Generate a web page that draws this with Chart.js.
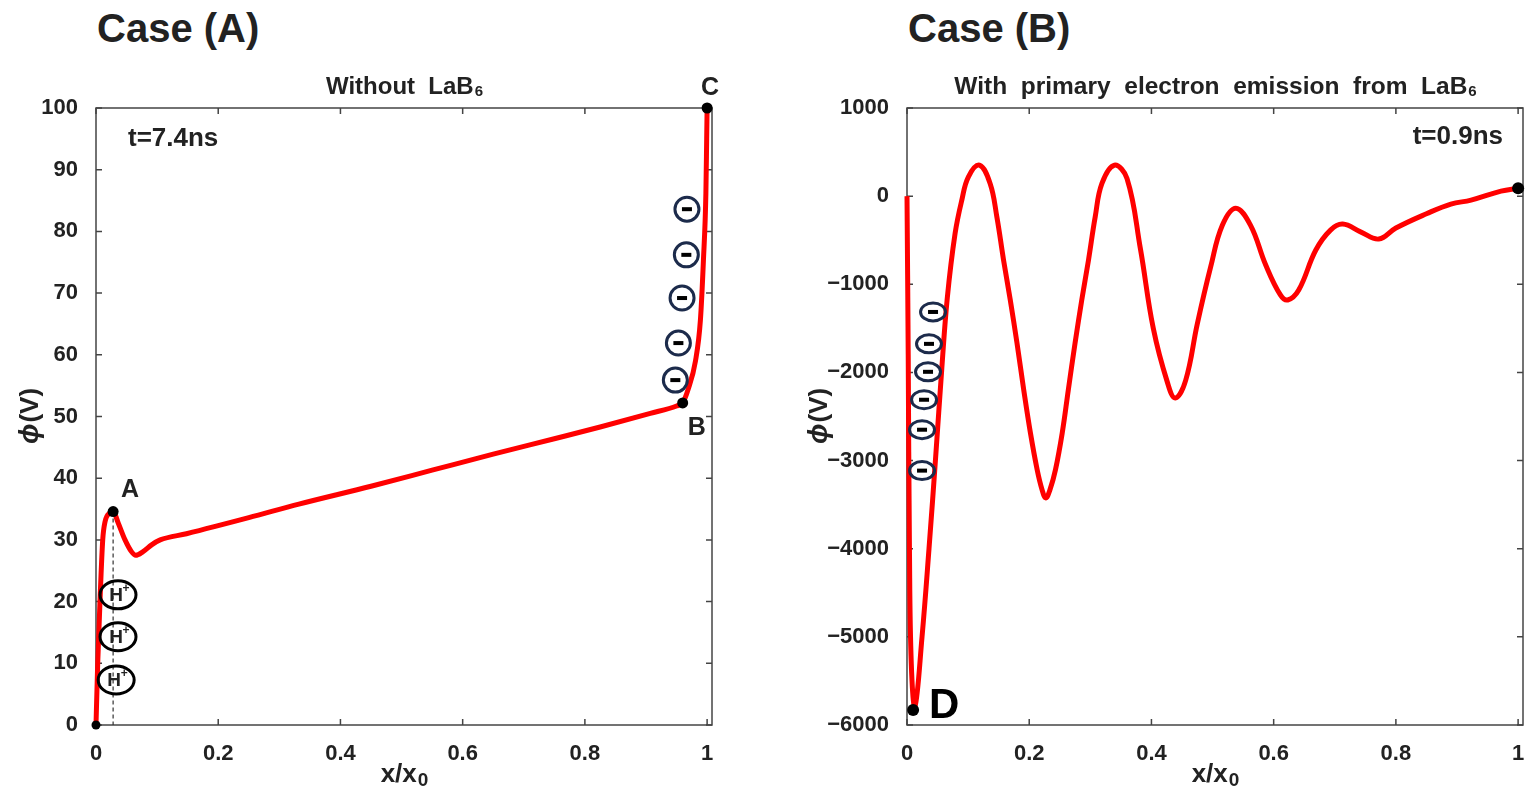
<!DOCTYPE html>
<html>
<head>
<meta charset="utf-8">
<script src="https://cdn.jsdelivr.net/npm/chart.js@4.4.1/dist/chart.umd.min.js"></script>
<style>
  html, body { margin: 0; padding: 0; background: #fff; }
  body { width: 1538px; height: 801px; position: relative; overflow: hidden; font-family: "Liberation Sans", Arial, sans-serif; }
  .panel { position: absolute; top: 0; width: 769px; height: 801px; }
  .case { position: absolute; top: 4px; font-size: 40px; line-height: 48px; font-weight: bold; color: #222; }
</style>
</head>
<body>
<div class="case" style="left:97px">Case (A)</div>
<div class="case" style="left:908px">Case (B)</div>
<div class="panel" style="left:0"><canvas id="chartA" width="769" height="801"></canvas></div>
<div class="panel" style="left:769px"><canvas id="chartB" width="769" height="801"></canvas></div>
<script>
// titles ("_" marks the subscript that follows)
var titleA = 'Without  LaB_6';
var titleB = 'With  primary  electron  emission  from  LaB_6';
var xTitle = 'x/x_0';
var yTitleSym = 'ϕ';
var yTitleUnit = '(V)';

// ticks
var xTickVals = [0, 0.2, 0.4, 0.6, 0.8, 1];
var yTickValsA = [0, 10, 20, 30, 40, 50, 60, 70, 80, 90, 100];
var yTickValsB = [-6000, -5000, -4000, -3000, -2000, -1000, 0, 1000];

// case (A): potential without LaB6, t=7.4ns
var xA = [0, 0.0028, 0.0065, 0.011, 0.0147, 0.023, 0.028, 0.0365, 0.0475, 0.058, 0.065, 0.077, 0.091, 0.105,
          0.148, 0.25, 0.332, 0.45, 0.55, 0.65, 0.75, 0.825, 0.907, 0.95, 0.96, 0.969, 0.981, 0.989,
          0.994, 0.998, 0.9993, 1.0];
var yA = [0, 10, 20, 30, 32.9, 34.4, 34.6, 32.7, 30, 28.1, 27.5, 28.1, 29.2, 30,
          31.0, 33.6, 35.8, 38.7, 41.3, 43.9, 46.4, 48.3, 50.5, 51.7, 52.2, 54.4, 59, 65.6,
          75.4, 86.2, 95, 100];

// case (B): with primary electron emission, t=0.9ns
var xB = [0, 0.002, 0.004, 0.007, 0.013, 0.0246, 0.036, 0.047, 0.057, 0.066, 0.0787, 0.0897,
          0.1005, 0.1185, 0.136, 0.147, 0.158, 0.169, 0.18, 0.191, 0.202, 0.213, 0.221, 0.227, 0.234,
          0.243, 0.254, 0.264, 0.275, 0.286, 0.297, 0.308, 0.319, 0.3393, 0.36, 0.382, 0.403, 0.426,
          0.439, 0.456, 0.475, 0.497, 0.516, 0.538, 0.562, 0.587, 0.611, 0.623, 0.641, 0.669, 0.693,
          0.713, 0.743, 0.772, 0.8, 0.85, 0.89, 0.923, 0.972, 1.0];
var yB = [0, -1800, -4000, -5300, -5790, -5000, -4000, -2950, -1950, -1150, -423, -45,
          219, 351, 144, -234, -725, -1178, -1668, -2197, -2687, -3103, -3330, -3424, -3330,
          -3103, -2687, -2197, -1668, -1178, -725, -234, 144, 351, 200, -600, -1500, -2110,
          -2290, -2090, -1450, -800, -330, -136, -328, -781, -1121, -1178, -1065, -611, -385,
          -317, -408, -487, -362, -200, -90, -45, 57, 90];

// marked points and symbols
var dotsA = [[0, 0], [0.028, 34.6], [0.96, 52.2], [1.0, 100]];
var lettersA = [['A', 0.028, 34.6, 17, -21], ['B', 0.96, 52.2, 14, 25], ['C', 1.0, 100, 3, -20]];
var ionsA = [[0.036, 21.1], [0.036, 14.3], [0.033, 7.3]];
var electronsA = [[0.967, 83.6], [0.966, 76.2], [0.959, 69.2], [0.953, 61.9], [0.948, 55.9]];
var dotsB = [[0.01, -5830], [1.0, 90]];
var electronsB = [[0.0426, -1314], [0.036, -1676], [0.0344, -1993], [0.0279, -2310], [0.0246, -2650], [0.0246, -3114]];

var FONT = '"Liberation Sans", Arial, sans-serif';
Chart.defaults.font.family = FONT;
Chart.defaults.color = '#222';

function pts(xs, ys) {
  return xs.map(function (x, i) { return {x: x, y: ys[i]}; });
}

function fmt(v) {
  var s = String(+v.toFixed(2));
  return v < 0 ? '\u2212' + s.slice(1) : s;
}

// text with an optional trailing subscript, centred on (cx, cy)
function subText(ctx, text, cx, cy, size, subScale, drop) {
  var p = text.split('_');
  ctx.font = 'bold ' + size + 'px ' + FONT;
  var w1 = ctx.measureText(p[0]).width;
  ctx.font = 'bold ' + Math.round(size * subScale) + 'px ' + FONT;
  var w2 = p[1] ? ctx.measureText(p[1]).width : 0;
  var x0 = cx - (w1 + w2) / 2;
  ctx.textAlign = 'left';
  ctx.textBaseline = 'middle';
  ctx.font = 'bold ' + size + 'px ' + FONT;
  ctx.fillText(p[0], x0, cy);
  if (p[1]) {
    ctx.font = 'bold ' + Math.round(size * subScale) + 'px ' + FONT;
    ctx.fillText(p[1], x0 + w1 + 1, cy + drop);
  }
}

// box round the plot, ticks pointing inwards, titles
var frame = {
  id: 'frame',
  beforeDatasetsDraw: function (chart, args, opts) {
    var ctx = chart.ctx, a = chart.chartArea, x = chart.scales.x, y = chart.scales.y;
    ctx.save();
    ctx.strokeStyle = '#444';
    ctx.lineWidth = 1.5;
    ctx.strokeRect(a.left, a.top, a.right - a.left, a.bottom - a.top);
    ctx.beginPath();
    x.ticks.forEach(function (t) {
      var px = x.getPixelForValue(t.value);
      ctx.moveTo(px, a.bottom); ctx.lineTo(px, a.bottom - 6);
      ctx.moveTo(px, a.top); ctx.lineTo(px, a.top + 6);
    });
    y.ticks.forEach(function (t) {
      var py = y.getPixelForValue(t.value);
      ctx.moveTo(a.left, py); ctx.lineTo(a.left + 6, py);
      ctx.moveTo(a.right, py); ctx.lineTo(a.right - 6, py);
    });
    ctx.stroke();

    var cx = (a.left + a.right) / 2, cy = (a.top + a.bottom) / 2;
    ctx.fillStyle = '#222';
    subText(ctx, opts.title, cx, a.top - 21, opts.titleSize, 0.62, 5);
    subText(ctx, xTitle, cx, a.bottom + 50, 26, 0.72, 6);

    // y title, rotated
    ctx.translate(opts.yTitleX, cy);
    ctx.rotate(-Math.PI / 2);
    ctx.textBaseline = 'middle';
    ctx.textAlign = 'left';
    ctx.font = 'italic bold 27px ' + FONT;
    var w1 = ctx.measureText(yTitleSym).width;
    ctx.font = 'bold 26px ' + FONT;
    var w2 = ctx.measureText(yTitleUnit).width;
    ctx.font = 'italic bold 27px ' + FONT;
    ctx.fillText(yTitleSym, -(w1 + w2) / 2, 0);
    ctx.font = 'bold 26px ' + FONT;
    ctx.fillText(yTitleUnit, -(w1 + w2) / 2 + w1 + 1, 0);
    ctx.restore();
  }
};

function dot(ctx, px, py, r) {
  ctx.beginPath();
  ctx.arc(px, py, r, 0, Math.PI * 2);
  ctx.fillStyle = '#000';
  ctx.fill();
}

function electron(ctx, px, py, rx, ry) {
  ctx.beginPath();
  ctx.ellipse(px, py, rx, ry, 0, 0, Math.PI * 2);
  ctx.strokeStyle = '#1c2b4b';
  ctx.lineWidth = 3;
  ctx.stroke();
  ctx.fillStyle = '#000';
  ctx.fillRect(px - 5, py - 2, 10, 4);
}

var notesA = {
  id: 'notesA',
  afterDatasetsDraw: function (chart) {
    var ctx = chart.ctx, x = chart.scales.x, y = chart.scales.y, a = chart.chartArea;
    ctx.save();
    // dashed line below A
    ctx.setLineDash([4, 3]);
    ctx.strokeStyle = '#333';
    ctx.lineWidth = 1.2;
    ctx.beginPath();
    ctx.moveTo(x.getPixelForValue(dotsA[1][0]), y.getPixelForValue(dotsA[1][1]));
    ctx.lineTo(x.getPixelForValue(dotsA[1][0]), y.getPixelForValue(0));
    ctx.stroke();
    ctx.setLineDash([]);
    // H+ ions
    ionsA.forEach(function (p) {
      var px = x.getPixelForValue(p[0]), py = y.getPixelForValue(p[1]);
      ctx.beginPath();
      ctx.ellipse(px, py, 18, 14, 0, 0, Math.PI * 2);
      ctx.strokeStyle = '#000';
      ctx.lineWidth = 3;
      ctx.stroke();
      ctx.fillStyle = '#222';
      ctx.textBaseline = 'middle';
      ctx.textAlign = 'center';
      ctx.font = 'bold 19px ' + FONT;
      ctx.fillText('H', px - 2, py + 1);
      ctx.font = 'bold 12px ' + FONT;
      ctx.fillText('+', px + 8, py - 6);
    });
    electronsA.forEach(function (p) {
      electron(ctx, x.getPixelForValue(p[0]), y.getPixelForValue(p[1]), 12, 12);
    });
    dotsA.forEach(function (p, i) {
      dot(ctx, x.getPixelForValue(p[0]), y.getPixelForValue(p[1]), i === 0 ? 4.5 : 5.5);
    });
    ctx.fillStyle = '#222';
    ctx.font = 'bold 25px ' + FONT;
    ctx.textAlign = 'center';
    ctx.textBaseline = 'middle';
    lettersA.forEach(function (l) {
      ctx.fillText(l[0], x.getPixelForValue(l[1]) + l[3], y.getPixelForValue(l[2]) + l[4]);
    });
    ctx.textAlign = 'left';
    ctx.font = 'bold 26px ' + FONT;
    ctx.fillText('t=7.4ns', a.left + 32, a.top + 31);
    ctx.restore();
  }
};

var notesB = {
  id: 'notesB',
  afterDatasetsDraw: function (chart) {
    var ctx = chart.ctx, x = chart.scales.x, y = chart.scales.y, a = chart.chartArea;
    ctx.save();
    electronsB.forEach(function (p) {
      electron(ctx, x.getPixelForValue(p[0]), y.getPixelForValue(p[1]), 12.5, 9);
    });
    dotsB.forEach(function (p) {
      dot(ctx, x.getPixelForValue(p[0]), y.getPixelForValue(p[1]), 6);
    });
    ctx.fillStyle = '#000';
    ctx.textBaseline = 'middle';
    ctx.textAlign = 'center';
    ctx.font = 'bold 42px ' + FONT;
    ctx.fillText('D', x.getPixelForValue(dotsB[0][0]) + 31, y.getPixelForValue(dotsB[0][1]) - 4);
    ctx.fillStyle = '#222';
    ctx.textAlign = 'right';
    ctx.font = 'bold 26px ' + FONT;
    ctx.fillText('t=0.9ns', a.right - 20, a.top + 29);
    ctx.restore();
  }
};

function makeChart(id, title, titleSize, data, smooth, yTicks, yWidth, yTitleX, rightPad, yMin, yMax, notes) {
  return new Chart(document.getElementById(id), {
    type: 'line',
    data: {
      datasets: [{
        data: data,
        borderColor: '#ff0000',
        borderWidth: 5,
        pointRadius: 0,
        fill: false,
        tension: 0.4,
        cubicInterpolationMode: smooth,
        clip: false
      }]
    },
    options: {
      responsive: false,
      animation: false,
      layout: { padding: { left: 0, right: rightPad, top: 108, bottom: 0 } },
      plugins: {
        legend: { display: false },
        tooltip: { enabled: false },
        frame: { title: title, titleSize: titleSize, yTitleX: yTitleX }
      },
      scales: {
        x: {
          type: 'linear',
          min: 0,
          max: 1.008,
          grid: { display: false },
          border: { display: false },
          afterBuildTicks: function (s) { s.ticks = xTickVals.map(function (v) { return {value: v}; }); },
          afterFit: function (s) { s.height = 76; },
          ticks: { font: { size: 22, weight: 'bold' }, color: '#222', padding: 8, maxRotation: 0,
                   callback: function (v) { return fmt(v); } }
        },
        y: {
          type: 'linear',
          min: yMin,
          max: yMax,
          grid: { display: false },
          border: { display: false },
          afterBuildTicks: function (s) { s.ticks = yTicks.map(function (v) { return {value: v}; }); },
          afterFit: function (s) { s.width = yWidth; },
          ticks: { font: { size: 22, weight: 'bold' }, color: '#222', padding: 10,
                   callback: function (v) { return fmt(v); } }
        }
      }
    },
    plugins: [frame, notes]
  });
}

makeChart('chartA', titleA, 24, pts(xA, yA), 'monotone', yTickValsA, 96, 31, 57, 0, 100, notesA);
makeChart('chartB', titleB, 24.5, pts(xB, yB), 'default', yTickValsB, 138, 51, 15, -6000, 1000, notesB);
</script>
</body>
</html>
